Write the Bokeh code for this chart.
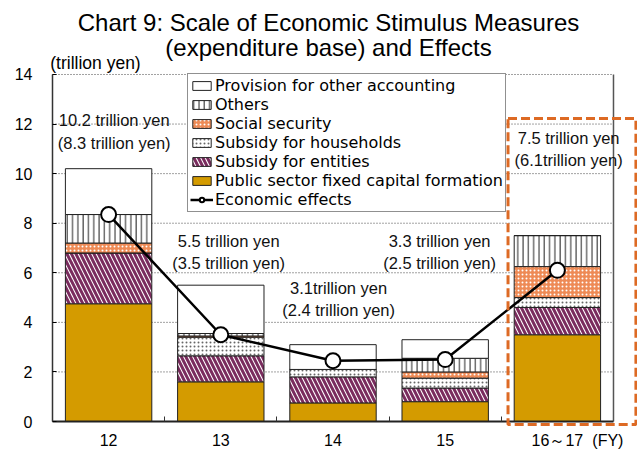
import numpy as np
from bokeh.plotting import figure
from bokeh.models import (Range1d, FixedTicker, Label, Legend, LegendItem,
                          BoxAnnotation)
from bokeh.embed import file_html
from bokeh.resources import INLINE

# ---------------- data ----------------
years = ["12", "13", "14", "15", "16～17"]
public_capital = [4.75, 1.6, 0.75, 0.8, 3.5]
subsidy_entities = [2.05, 1.05, 1.05, 0.55, 1.1]
subsidy_households = [0.0, 0.75, 0.3, 0.4, 0.4]
social_security = [0.4, 0.05, 0.0, 0.25, 1.25]
others = [1.15, 0.1, 0.0, 0.55, 1.25]
provision_other = [1.85, 1.95, 1.0, 0.75, 0.0]
economic_effects = [8.35, 3.5, 2.45, 2.5, 6.1]
total_labels = ["10.2 trillion yen", "5.5 trillion yen", "3.1trillion yen",
                "3.3 trillion yen", "7.5 trillion yen"]
effect_labels = ["(8.3 trillion yen)", "(3.5 trillion yen)", "(2.4 trillion yen)",
                 "(2.5 trillion yen)", "(6.1trillion yen)"]
y_ticks = [0, 2, 4, 6, 8, 10, 12, 14]

series_names = ["Public sector fixed capital formation", "Subsidy for entities",
                "Subsidy for households", "Social security", "Others",
                "Provision for other accounting"]
series_values = [public_capital, subsidy_entities, subsidy_households,
                 social_security, others, provision_other]

FONT = "Liberation Sans"
n = len(years)
x = np.arange(n) + 0.5

# the whole canvas is the frame; axes are fixed at 0
p = figure(width=637, height=453, output_backend="svg", toolbar_location=None,
           x_range=Range1d(-0.4635, 5.214), y_range=Range1d(-1.291, 16.985),
           min_border_left=0, min_border_right=0, min_border_top=0,
           min_border_bottom=0)
p.title = None
p.outline_line_color = None
p.background_fill_color = "white"
p.border_fill_color = "white"

# grid lines (dotted) and right frame line, limited to the plot area
p.segment(x0=0, x1=n, y0=y_ticks[1:], y1=y_ticks[1:], line_color="#444444",
          line_dash="1 2", line_width=1, level="underlay")
p.segment(x0=n, x1=n, y0=y_ticks[0], y1=y_ticks[-1], line_color="#555555",
          line_width=1.5)

styles = [
    dict(fill_color="#D49B00"),
    dict(fill_color="white", hatch_pattern="\\", hatch_color="#7A2C5E",
         hatch_weight=3, hatch_scale=9),
    dict(fill_color="white", hatch_pattern=".", hatch_color="#666666",
         hatch_weight=1.5, hatch_scale=4),
    dict(fill_color="#EE8A55", hatch_pattern=".", hatch_color="white",
         hatch_weight=2.2, hatch_scale=4),
    dict(fill_color="white", hatch_pattern="|", hatch_color="#222222",
         hatch_weight=1, hatch_scale=5.3),
    dict(fill_color="white"),
]

bottom = np.zeros(n)
bar_renderers = []
for vals, st in zip(series_values, styles):
    vals = np.array(vals, dtype=float)
    r = p.vbar(x=x, width=0.77, bottom=bottom, top=bottom + vals,
               line_color="#222222", line_width=1, **st)
    bar_renderers.append(r)
    bottom = bottom + vals

line_r = p.line(x, economic_effects, line_color="black", line_width=2.5)
circ_r = p.scatter(x, economic_effects, marker="circle", size=15,
                   fill_color="white", line_color="black", line_width=2)

# axes
p.yaxis.fixed_location = 0
p.yaxis.bounds = (y_ticks[0], y_ticks[-1])
p.yaxis.ticker = FixedTicker(ticks=y_ticks)
p.yaxis.major_tick_in = 4
p.yaxis.major_tick_out = 0
p.yaxis.minor_tick_line_color = None
p.yaxis.major_label_standoff = 20
p.yaxis.major_label_text_font = FONT
p.yaxis.major_label_text_font_size = "16px"
p.yaxis.major_label_text_color = "black"
p.yaxis.axis_line_color = "#333333"
p.yaxis.axis_line_width = 1.5

fy_pos = 4.95
p.xaxis.fixed_location = 0
p.xaxis.bounds = (0, n)
p.xaxis.ticker = FixedTicker(ticks=list(x) + [fy_pos], minor_ticks=[1, 2, 3, 4])
p.xaxis.major_label_overrides = {**{float(xi): yr for xi, yr in zip(x, years)},
                                 fy_pos: "(FY)"}
p.xaxis.major_tick_line_color = None
p.xaxis.minor_tick_in = 5
p.xaxis.minor_tick_out = 0
p.xaxis.minor_tick_line_color = "#333333"
p.xaxis.major_label_standoff = 4
p.xaxis.major_label_text_font = FONT
p.xaxis.major_label_text_font_size = "16px"
p.xaxis.major_label_text_color = "black"
p.xaxis.axis_line_color = "#222222"
p.xaxis.axis_line_width = 2

p.xgrid.visible = False
p.ygrid.visible = False

# dashed highlight box around the last bar
p.add_layout(BoxAnnotation(left=4.06, right=5.2, bottom=-0.12, top=12.22,
                           fill_color=None, fill_alpha=0, line_color="#DD6A24",
                           line_alpha=1, line_width=3, line_dash="9 4"))

# annotations
ann_pos = [(0.55, 12.15, 11.25), (1.57, 7.3, 6.4), (2.55, 5.4, 4.5),
           (3.45, 7.3, 6.4), (4.6, 11.45, 10.55)]
for (ax, y1, y2), t1, t2 in zip(ann_pos, total_labels, effect_labels):
    for yy, tt in ((y1, t1), (y2, t2)):
        p.add_layout(Label(x=ax, y=yy, text=tt, text_font=FONT,
                           text_font_size="16.5px", text_color="#111111",
                           text_align="center", text_baseline="middle"))

# title and unit
p.add_layout(Label(x=2.46, y=16.1, text="Chart 9: Scale of Economic Stimulus Measures",
                   text_font=FONT, text_font_size="24px", text_color="black",
                   text_align="center", text_baseline="middle"))
p.add_layout(Label(x=2.46, y=15.08, text="(expenditure base) and Effects",
                   text_font=FONT, text_font_size="24px", text_color="black",
                   text_align="center", text_baseline="middle"))
p.add_layout(Label(x=-0.02, y=14.48, text="(trillion yen)",
                   text_font=FONT, text_font_size="17.5px", text_color="black",
                   text_align="left", text_baseline="middle"))

# legend
items = [LegendItem(label=series_names[i], renderers=[bar_renderers[i]])
         for i in range(len(series_names) - 1, -1, -1)]
items.append(LegendItem(label="Economic effects", renderers=[line_r, circ_r]))
legend = Legend(items=items, location=(187, 241), orientation="vertical",
                label_text_font="DejaVu Sans", label_text_font_size="16px",
                label_text_color="black", label_height=18, glyph_height=11,
                glyph_width=23, label_standoff=2, spacing=0, padding=2,
                margin=0, border_line_color="#222222", border_line_width=1,
                background_fill_color="white", background_fill_alpha=1)
p.add_layout(legend)

open("out.html", "w").write(file_html(p, INLINE))
